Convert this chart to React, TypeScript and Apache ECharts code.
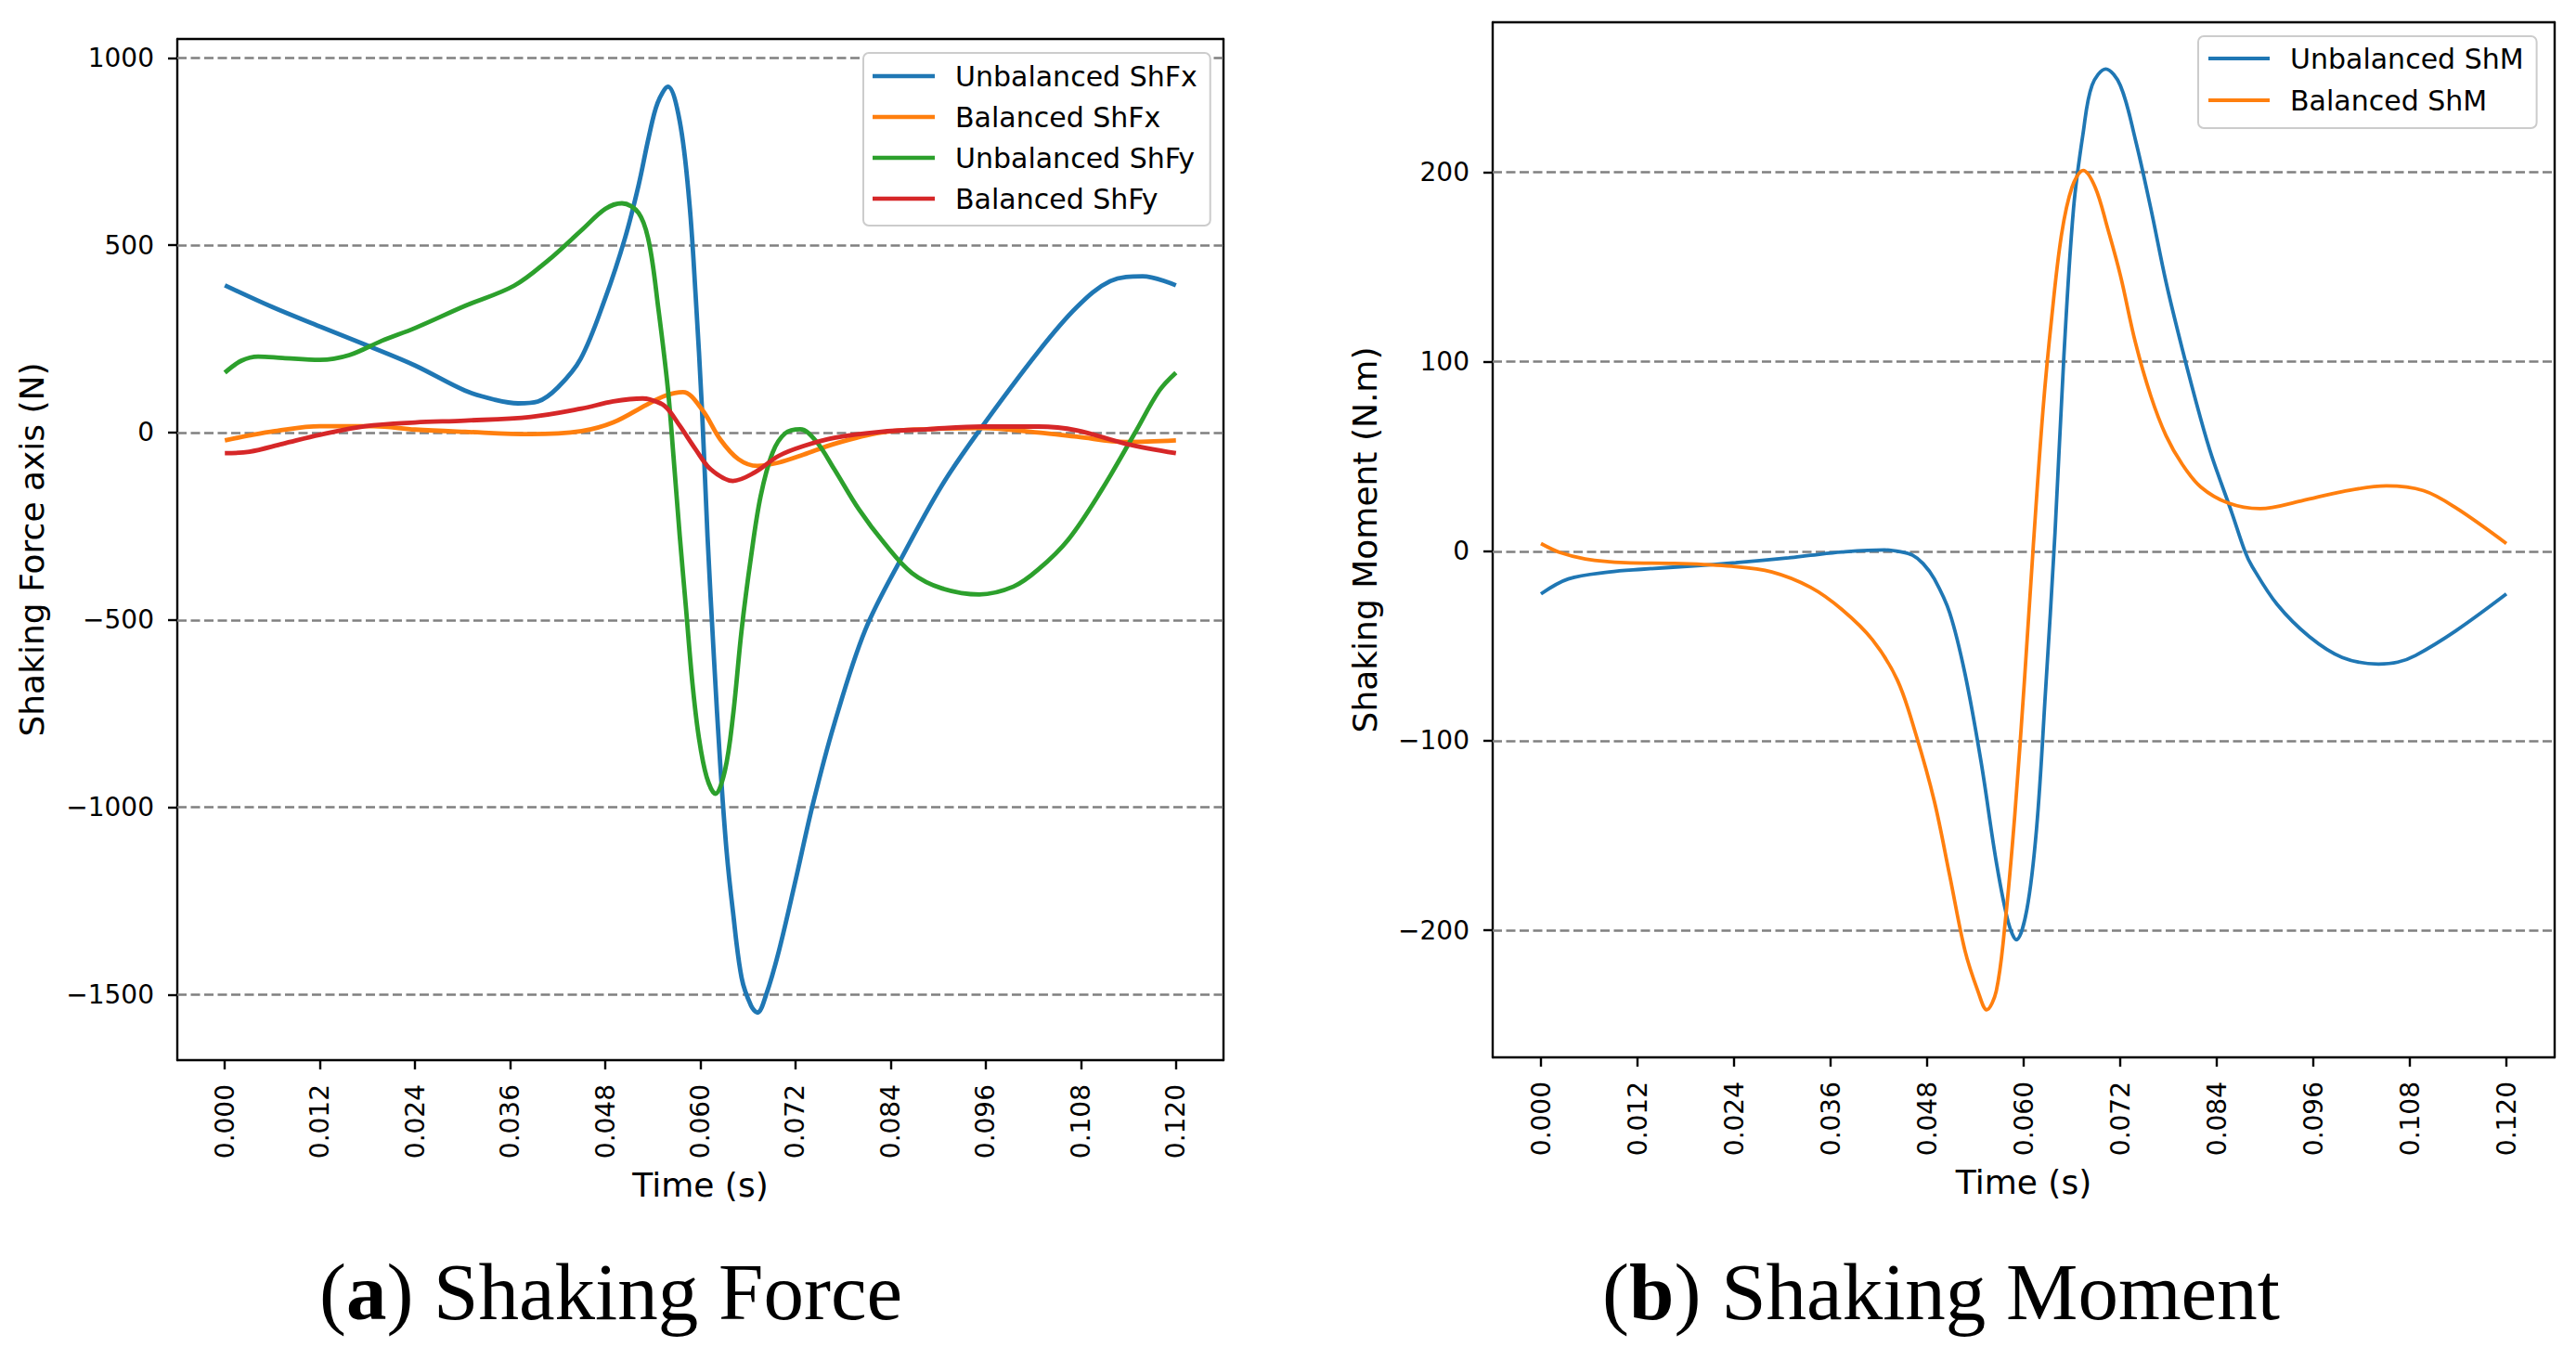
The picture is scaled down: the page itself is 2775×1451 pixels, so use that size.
import React, { useEffect, useRef } from "react";
import * as echarts from "echarts";

// ---------- tick values / labels ----------
const timeTicks = [0, 0.012, 0.024, 0.036, 0.048, 0.06, 0.072, 0.084, 0.096, 0.108, 0.12];
const timeTickLabels = ["0.000", "0.012", "0.024", "0.036", "0.048", "0.060", "0.072", "0.084", "0.096", "0.108", "0.120"];
const forceTicks = [-1500, -1000, -500, 0, 500, 1000];
const forceTickLabels = ["\u22121500", "\u22121000", "\u2212500", "0", "500", "1000"];
const momentTicks = [-200, -100, 0, 100, 200];
const momentTickLabels = ["\u2212200", "\u2212100", "0", "100", "200"];

// ---------- (a) Shaking force ----------
const tUnbShFx = [0, 0.006, 0.012, 0.018, 0.024, 0.0303, 0.034, 0.037, 0.0395, 0.042, 0.0449, 0.048, 0.0505, 0.0522, 0.0535, 0.0546, 0.0559, 0.0574, 0.0586, 0.0594, 0.0602, 0.0609, 0.0617, 0.0625, 0.0633, 0.0641, 0.0652, 0.0664, 0.0672, 0.0683, 0.0699, 0.0719, 0.0742, 0.0769, 0.0808, 0.0855, 0.0905, 0.095, 0.1026, 0.1075, 0.1117, 0.1158, 0.12];
const vUnbShFx = [393, 335, 283, 232, 179, 112, 88, 78, 83, 120, 197, 359, 520, 660, 790, 880, 923, 830, 616, 366, 63, -277, -598, -884, -1116, -1277, -1455, -1530, -1548, -1500, -1384, -1205, -991, -777, -527, -330, -140, 0, 215, 335, 404, 417, 393];

const tBalShFx = [0, 0.003, 0.0063, 0.012, 0.0188, 0.024, 0.0303, 0.0386, 0.045, 0.049, 0.0532, 0.0555, 0.0578, 0.0602, 0.0625, 0.0648, 0.0672, 0.0699, 0.073, 0.0769, 0.0828, 0.0886, 0.0956, 0.1026, 0.1075, 0.1137, 0.12];
const vBalShFx = [-21, -8, 4, 17, 17, 8, 2, -4, 4, 27, 74, 98, 108, 62, -18, -71, -89, -80, -59, -30, 0, 9, 12, 0, -11, -25, -21];

const tUnbShFy = [0, 0.0021, 0.0042, 0.0073, 0.012, 0.0157, 0.0198, 0.024, 0.0303, 0.0365, 0.0407, 0.045, 0.048, 0.0501, 0.0522, 0.0535, 0.0547, 0.0559, 0.0566, 0.0574, 0.0582, 0.059, 0.0598, 0.0608, 0.0619, 0.0631, 0.0641, 0.0652, 0.0664, 0.0676, 0.0691, 0.0707, 0.0726, 0.0746, 0.0769, 0.08, 0.0832, 0.0867, 0.0905, 0.0952, 0.0995, 0.1026, 0.1064, 0.1106, 0.1148, 0.1179, 0.12];
const vUnbShFy = [160, 192, 203, 199, 194, 207, 245, 279, 338, 392, 458, 540, 597, 612, 586, 509, 330, 116, -62, -277, -473, -670, -813, -920, -964, -902, -759, -527, -330, -170, -54, -2, 9, -23, -98, -205, -295, -375, -416, -432, -411, -366, -286, -154, -2, 112, 160];

const tBalShFy = [0, 0.0031, 0.0073, 0.012, 0.0177, 0.024, 0.0303, 0.0386, 0.045, 0.049, 0.0527, 0.0535, 0.0555, 0.0574, 0.0594, 0.0613, 0.0641, 0.0668, 0.0699, 0.073, 0.0769, 0.0828, 0.0886, 0.0956, 0.1026, 0.1075, 0.1137, 0.12];
const vBalShFy = [-55, -51, -30, -6, 17, 27, 32, 42, 64, 83, 91, 89, 71, 18, -45, -98, -129, -107, -62, -36, -14, 2, 9, 16, 16, 6, -30, -55];

// ---------- (b) Shaking moment ----------
const tUnbShM = [0, 0.0034, 0.0085, 0.0125, 0.0186, 0.0242, 0.0308, 0.0335, 0.0374, 0.0427, 0.0447, 0.0462, 0.0475, 0.0489, 0.0508, 0.0527, 0.0547, 0.0566, 0.0581, 0.0591, 0.0604, 0.0616, 0.0627, 0.0639, 0.065, 0.0662, 0.0674, 0.0685, 0.0702, 0.072, 0.0739, 0.0758, 0.0777, 0.0797, 0.082, 0.0834, 0.0859, 0.0875, 0.0884, 0.0915, 0.0955, 0.0996, 0.1041, 0.1065, 0.1087, 0.1137, 0.12];
const vUnbShM = [-22.5, -14.6, -10.9, -9.5, -7.8, -6, -3.4, -2.1, -0.4, 0.7, -0.3, -2.1, -6.5, -14.6, -32.4, -64.5, -111, -164, -196, -205, -189, -146.5, -75, 10, 103, 181, 221, 246, 254.5, 246, 217, 181, 142, 107, 70, 50, 20, 0, -8, -28, -45, -56, -59.5, -58.5, -55, -42, -22.5];

const tBalShM = [0, 0.0024, 0.0055, 0.0105, 0.0166, 0.0237, 0.0287, 0.0335, 0.0374, 0.0412, 0.0443, 0.0466, 0.0489, 0.0508, 0.0527, 0.0543, 0.0554, 0.0566, 0.0577, 0.0589, 0.0601, 0.0612, 0.0624, 0.0635, 0.0647, 0.066, 0.0674, 0.0689, 0.0704, 0.072, 0.0739, 0.0758, 0.0777, 0.0797, 0.082, 0.0854, 0.0894, 0.0945, 0.0996, 0.1051, 0.1097, 0.1137, 0.12];
const vBalShM = [4.1, -0.7, -4, -6, -6.4, -7.9, -10.9, -19, -30.7, -46.7, -68, -96.6, -132, -171, -210.7, -232, -242, -232, -196, -139, -68, 3, 74.5, 124, 167, 192, 201, 192, 171, 146, 110, 82, 61, 46, 34, 25.5, 22.5, 26.6, 31.5, 34.5, 32, 23, 4.1];

const C_BLUE = "#1f77b4";
const C_ORANGE = "#ff7f0e";
const C_GREEN = "#2ca02c";
const C_RED = "#d62728";

const SANS = "DejaVu Sans";
const SERIF = "Liberation Serif";

function pairs(t: number[], v: number[]) {
  return t.map((x, i) => [x, v[i]]);
}

function labelFor(ticks: number[], labels: string[]) {
  return (val: number) => {
    const i = ticks.findIndex((t) => Math.abs(t - val) < 1e-9);
    return i >= 0 ? labels[i] : "";
  };
}

const FRAME = { color: "#000", width: 2.4 };

function bottomX(grid: number) {
  return {
    gridIndex: grid,
    type: "value",
    min: -0.006,
    max: 0.126,
    position: "bottom",
    axisLine: { show: true, onZero: false, lineStyle: FRAME },
    axisTick: { show: true, inside: false, length: 10, customValues: timeTicks, lineStyle: FRAME },
    axisLabel: {
      show: true,
      customValues: timeTicks,
      rotate: 90,
      margin: 26,
      fontSize: 28,
      fontFamily: SANS,
      color: "#000",
      formatter: labelFor(timeTicks, timeTickLabels),
    },
    splitLine: { show: false },
    name: "Time (s)",
    nameLocation: "middle",
    nameGap: 116,
    nameTextStyle: { fontSize: 36, fontFamily: SANS, color: "#000" },
  };
}

function topX(grid: number) {
  return {
    gridIndex: grid,
    type: "value",
    min: -0.006,
    max: 0.126,
    position: "top",
    axisLine: { show: true, onZero: false, lineStyle: FRAME },
    axisTick: { show: false },
    axisLabel: { show: false },
    splitLine: { show: false },
  };
}

function leftY(grid: number, min: number, max: number, ticks: number[], labels: string[], name: string, gap: number) {
  return {
    gridIndex: grid,
    type: "value",
    min,
    max,
    position: "left",
    axisLine: { show: true, onZero: false, lineStyle: FRAME },
    axisTick: { show: true, inside: false, length: 10, customValues: ticks, lineStyle: FRAME },
    axisLabel: {
      show: true,
      customValues: ticks,
      margin: 25,
      fontSize: 28,
      fontFamily: SANS,
      color: "#000",
      formatter: labelFor(ticks, labels),
    },
    splitLine: { show: false },
    name,
    nameLocation: "middle",
    nameRotate: 90,
    nameGap: gap,
    nameTextStyle: { fontSize: 36, fontFamily: SANS, color: "#000" },
  };
}

function rightY(grid: number, min: number, max: number) {
  return {
    gridIndex: grid,
    type: "value",
    min,
    max,
    position: "right",
    axisLine: { show: true, onZero: false, lineStyle: FRAME },
    axisTick: { show: false },
    axisLabel: { show: false },
    splitLine: { show: false },
  };
}

function gridLines(ticks: number[]) {
  return {
    silent: true,
    z: 1,
    symbol: ["none", "none"],
    label: { show: false },
    emphasis: { disabled: true },
    lineStyle: { color: "#808080", type: [10, 4.5], width: 2.6 },
    data: ticks.map((v) => ({ yAxis: v })),
  };
}

function lineSeries(name: string, data: number[][], color: string, width: number, xi: number, yi: number, extra: any = {}) {
  return {
    type: "line",
    name,
    data,
    xAxisIndex: xi,
    yAxisIndex: yi,
    showSymbol: false,
    symbol: "none",
    smooth: 0.35,
    z: 2,
    lineStyle: { color, width },
    itemStyle: { color },
    emphasis: { disabled: true },
    ...extra,
  };
}

function legendOf(names: string[], left: number, top: number, gap: number, itemWidth: number, iconH: number, padding: number[]) {
  return {
    orient: "vertical",
    left,
    top,
    data: names,
    icon: "rect",
    itemWidth,
    itemHeight: iconH,
    itemGap: gap,
    padding,
    selectedMode: false,
    backgroundColor: "#ffffff",
    borderColor: "#cccccc",
    borderWidth: 2,
    borderRadius: 6,
    itemStyle: { borderWidth: 0 },
    textStyle: { fontFamily: SANS, fontSize: 30, lineHeight: 30, color: "#000", padding: [0, 0, 0, 17] },
  };
}

function caption(x: number, letter: string, rest: string) {
  return {
    type: "text",
    x,
    y: 1391,
    silent: true,
    style: {
      text: "({b|" + letter + "}) " + rest,
      fontFamily: SERIF,
      fontSize: 87,
      fill: "#000",
      align: "center",
      verticalAlign: "middle",
      textAlign: "center",
      textVerticalAlign: "middle",
      rich: {
        b: { fontFamily: SERIF, fontSize: 87, fontWeight: "bold", fill: "#000" },
      },
    },
  };
}

export default function App() {
  const ref = useRef<HTMLDivElement>(null);

  useEffect(() => {
    if (!ref.current) return;
    const chart = echarts.init(ref.current, null, { renderer: "svg", width: 2775, height: 1451 });
    const option: any = {
      animation: false,
      backgroundColor: "#ffffff",
      textStyle: { fontFamily: SANS },
      grid: [
        { left: 191, top: 42, width: 1127, height: 1100, containLabel: false },
        { left: 1608, top: 24, width: 1144, height: 1115, containLabel: false },
      ],
      xAxis: [bottomX(0), topX(0), bottomX(1), topX(1)],
      yAxis: [
        leftY(0, -1675, 1050.5, forceTicks, forceTickLabels, "Shaking Force axis (N)", 139),
        rightY(0, -1675, 1050.5),
        leftY(1, -267.1, 279.2, momentTicks, momentTickLabels, "Shaking Moment (N.m)", 120),
        rightY(1, -267.1, 279.2),
      ],
      legend: [
        legendOf(["Unbalanced ShFx", "Balanced ShFx", "Unbalanced ShFy", "Balanced ShFy"], 930, 57, 14, 67, 4.6, [10, 14, 14, 10]),
        legendOf(["Unbalanced ShM", "Balanced ShM"], 2368, 39, 15, 66, 3.8, [9, 14, 15, 11]),
      ],
      series: [
        lineSeries("Unbalanced ShFx", pairs(tUnbShFx, vUnbShFx), C_BLUE, 4.8, 0, 0, { markLine: gridLines(forceTicks) }),
        lineSeries("Balanced ShFx", pairs(tBalShFx, vBalShFx), C_ORANGE, 4.8, 0, 0),
        lineSeries("Unbalanced ShFy", pairs(tUnbShFy, vUnbShFy), C_GREEN, 4.8, 0, 0),
        lineSeries("Balanced ShFy", pairs(tBalShFy, vBalShFy), C_RED, 4.8, 0, 0),
        lineSeries("Unbalanced ShM", pairs(tUnbShM, vUnbShM), C_BLUE, 3.8, 2, 2, { markLine: gridLines(momentTicks) }),
        lineSeries("Balanced ShM", pairs(tBalShM, vBalShM), C_ORANGE, 3.8, 2, 2),
      ],
      graphic: [caption(658, "a", "Shaking Force"), caption(2091, "b", "Shaking Moment")],
    };
    chart.setOption(option);
    return () => chart.dispose();
  }, []);

  return (
    <div
      ref={ref}
      style={{ position: "absolute", left: 0, top: 0, width: 2775, height: 1451, background: "#fff" }}
    />
  );
}
